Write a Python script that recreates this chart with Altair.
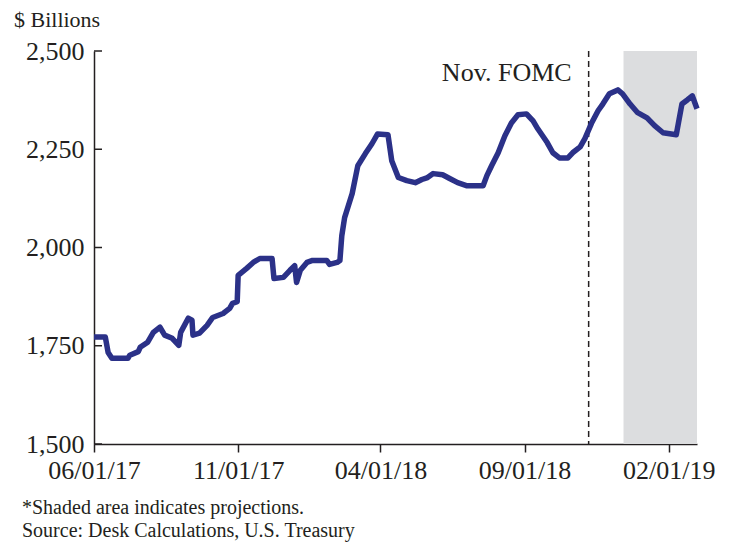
import altair as alt
import pandas as pd

# ---- data ----
dates = [
    "2017-06-01", "2017-06-13", "2017-06-16", "2017-06-20", "2017-07-07", "2017-07-09",
    "2017-07-18", "2017-07-20", "2017-07-28", "2017-08-03", "2017-08-10", "2017-08-15",
    "2017-08-23", "2017-08-30", "2017-09-01", "2017-09-09", "2017-09-13", "2017-09-14",
    "2017-09-21", "2017-09-29", "2017-10-05", "2017-10-16", "2017-10-23", "2017-10-26",
    "2017-10-31", "2017-11-01", "2017-11-10", "2017-11-17", "2017-11-24", "2017-12-07",
    "2017-12-09", "2017-12-19", "2017-12-26", "2017-12-31", "2018-01-02", "2018-01-06",
    "2018-01-13", "2018-01-19", "2018-02-03", "2018-02-06", "2018-02-14", "2018-02-17",
    "2018-02-19", "2018-02-22", "2018-03-02", "2018-03-08", "2018-03-16", "2018-03-23",
    "2018-03-29", "2018-04-09", "2018-04-13", "2018-04-20", "2018-04-29", "2018-05-08",
    "2018-05-15", "2018-05-21", "2018-05-27", "2018-06-06", "2018-06-14", "2018-06-22",
    "2018-07-02", "2018-07-19", "2018-07-23", "2018-07-28", "2018-08-04", "2018-08-11",
    "2018-08-18", "2018-08-25", "2018-09-03", "2018-09-10", "2018-09-15", "2018-09-25",
    "2018-10-01", "2018-10-08", "2018-10-17", "2018-10-22", "2018-10-30", "2018-11-04",
    "2018-11-11", "2018-11-18", "2018-11-23", "2018-11-30", "2018-12-09", "2018-12-14",
    "2018-12-22", "2018-12-30", "2019-01-09", "2019-01-17", "2019-01-26", "2019-02-09",
    "2019-02-15", "2019-02-21", "2019-02-26", "2019-03-03",
]
values = [
    1772, 1772, 1733, 1718, 1718, 1726,
    1735, 1746, 1759, 1784, 1797, 1777,
    1769, 1751, 1784, 1820, 1815, 1777,
    1782, 1802, 1822, 1832, 1845, 1858,
    1862, 1929, 1947, 1962, 1972, 1972,
    1921, 1924, 1942, 1954, 1911, 1942,
    1962, 1967, 1967, 1957, 1962, 1967,
    2030, 2076, 2137, 2208, 2239, 2264,
    2289, 2287, 2221, 2178, 2170, 2165,
    2173, 2178, 2188, 2185, 2175, 2165,
    2157, 2157, 2183, 2208, 2241, 2284,
    2317, 2338, 2340, 2322, 2302, 2267,
    2241, 2228, 2228, 2241, 2256, 2277,
    2316, 2348, 2365, 2391, 2401, 2391,
    2365, 2343, 2330, 2310, 2292, 2287,
    2365, 2376, 2386, 2353,
]

fomc_date = ["2018-11-08"]
fomc_label = ["Nov. FOMC"]
proj_start = ["2018-12-15"]
proj_end = ["2019-03-03"]
y_ticks = [1500, 1750, 2000, 2250, 2500]
x_tick_dates = [(2017, 6, 1), (2017, 11, 1), (2018, 4, 1), (2018, 9, 1), (2019, 2, 1)]
unit_label = "$ Billions"
note_1 = "*Shaded area indicates projections."
note_2 = "Source: Desk Calculations, U.S. Treasury"

FONT = "Liberation Serif"
TXT = "#231f20"
W, H = 603, 393

df = pd.DataFrame({"date": pd.to_datetime(dates), "value": values})
proj_df = pd.DataFrame({"start": pd.to_datetime(proj_start), "end": pd.to_datetime(proj_end)})
fomc_df = pd.DataFrame({"date": pd.to_datetime(fomc_date), "label": fomc_label})
ytick_df = pd.DataFrame({"v": y_ticks})

x_scale = alt.Scale(domain=[alt.DateTime(year=2017, month=6, date=1),
                            alt.DateTime(year=2019, month=3, date=3)], nice=False)
y_scale = alt.Scale(domain=[1500, 2500], nice=False, zero=False)

x_axis = alt.Axis(
    values=[alt.DateTime(year=y, month=m, date=d) for (y, m, d) in x_tick_dates],
    format="%m/%d/%y", title=None, grid=False, labelFont=FONT, labelFontSize=26,
    labelColor=TXT, labelPadding=5, tickSize=8, tickColor=TXT, tickWidth=1.5,
    domainColor=TXT, domainWidth=1.5, labelFlush=False, labelOverlap=False,
)
y_axis = alt.Axis(
    values=y_ticks, format=",d", title=None, grid=False, labelFont=FONT, labelFontSize=26,
    labelColor=TXT, labelPadding=10, tickSize=0, domainColor=TXT, domainWidth=1.5,
    labelOverlap=False,
)

shade = alt.Chart(proj_df).mark_rect(color="#dcdddf").encode(
    x=alt.X("start:T", scale=x_scale, axis=x_axis),
    x2="end:T",
    y=alt.value(0),
    y2=alt.value(H),
)

fomc_rule = alt.Chart(fomc_df).mark_rule(color=TXT, strokeWidth=1.5, strokeDash=[6, 4]).encode(
    x=alt.X("date:T", scale=x_scale, axis=x_axis),
    y=alt.value(0),
    y2=alt.value(H),
)

fomc_text = alt.Chart(fomc_df).mark_text(
    font=FONT, fontSize=26, color=TXT, align="right", baseline="middle", dx=-17
).encode(
    x=alt.X("date:T", scale=x_scale, axis=x_axis),
    y=alt.value(22),
    text="label:N",
)

line = alt.Chart(df).mark_line(color="#2b3188", strokeWidth=5.5, strokeJoin="round").encode(
    x=alt.X("date:T", scale=x_scale, axis=x_axis),
    y=alt.Y("value:Q", scale=y_scale, axis=y_axis),
)

yticks = alt.Chart(ytick_df).mark_rule(color=TXT, strokeWidth=1.5).encode(
    y=alt.Y("v:Q", scale=y_scale, axis=y_axis),
    x=alt.value(0),
    x2=alt.value(8),
)

unit_text = alt.Chart(pd.DataFrame({"t": [unit_label]})).mark_text(
    font=FONT, fontSize=22, color=TXT, align="left", baseline="alphabetic"
).encode(x=alt.value(-80), y=alt.value(-24), text="t:N")

note1_text = alt.Chart(pd.DataFrame({"t": [note_1]})).mark_text(
    font=FONT, fontSize=20, color=TXT, align="left", baseline="alphabetic"
).encode(x=alt.value(-72), y=alt.value(463), text="t:N")

note2_text = alt.Chart(pd.DataFrame({"t": [note_2]})).mark_text(
    font=FONT, fontSize=20, color=TXT, align="left", baseline="alphabetic"
).encode(x=alt.value(-72), y=alt.value(486), text="t:N")

chart = alt.layer(shade, fomc_rule, fomc_text, line, yticks, unit_text, note1_text, note2_text).properties(
    width=W, height=H,
    autosize=alt.AutoSizeParams(type="none"),
    padding={"left": 86, "top": 43, "right": 20, "bottom": 98},
).configure_view(stroke=None)

chart.save("out.html", embed_options={"renderer": "svg", "actions": False})
